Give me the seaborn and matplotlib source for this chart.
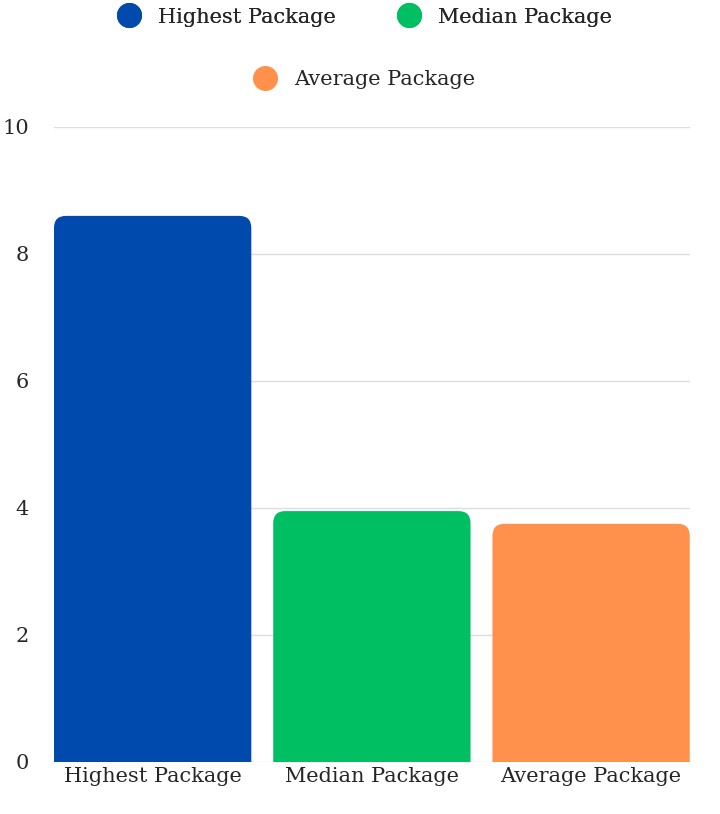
import matplotlib
matplotlib.use("Agg")
import matplotlib.pyplot as plt
import seaborn as sns
import pandas as pd
from matplotlib.patches import FancyBboxPatch
from matplotlib.lines import Line2D

categories = ["Highest Package", "Median Package", "Average Package"]
values = [8.6, 3.95, 3.75]
colors = ["#004aad", "#00bf63", "#ff914d"]

sns.set_style("white")
plt.rcParams["font.family"] = ["DejaVu Serif"]

df = pd.DataFrame({"cat": categories, "val": values})
fig = plt.figure(figsize=(7.2, 8.14), dpi=100)
ax = fig.add_axes([0.075, 0.064, 0.883, 0.78])
sns.barplot(data=df, x="cat", y="val", hue="cat", palette=colors, width=0.9,
            dodge=False, legend=False, ax=ax)

# swap plain bars for rounded ones
for patch, c in zip(list(ax.patches), colors):
    x, w, h = patch.get_x(), patch.get_width(), patch.get_height()
    patch.set_visible(False)
    rb = FancyBboxPatch((x, -0.5), w, h + 0.5,
                        boxstyle="round,pad=0,rounding_size=0.055",
                        mutation_aspect=3.45, facecolor=c, edgecolor="none",
                        zorder=2)
    ax.add_patch(rb)

ax.set_xlim(-0.45, 2.45)
ax.set_ylim(0, 10)
ax.set_yticks([0, 2, 4, 6, 8, 10])
ax.yaxis.grid(True, color="#dddddd", linewidth=1)
ax.set_axisbelow(True)
for s in ax.spines.values():
    s.set_visible(False)
ax.set_xlabel("")
ax.set_ylabel("")
ax.tick_params(axis="y", labelsize=15, pad=18, length=0)
ax.tick_params(axis="x", labelsize=15, length=0)

handles = [Line2D([], [], marker="o", linestyle="", markersize=17, color=c)
           for c in colors]
leg1 = fig.legend(handles[:2], categories[:2], loc="center", ncol=2, frameon=False,
                  fontsize=15, bbox_to_anchor=(0.5, 0.979), columnspacing=2.5,
                  handletextpad=0.4)
fig.add_artist(leg1)
fig.legend(handles[2:], categories[2:], loc="center", frameon=False,
           fontsize=15, bbox_to_anchor=(0.5, 0.902), handletextpad=0.4)

fig.savefig("out.png", dpi=100)
